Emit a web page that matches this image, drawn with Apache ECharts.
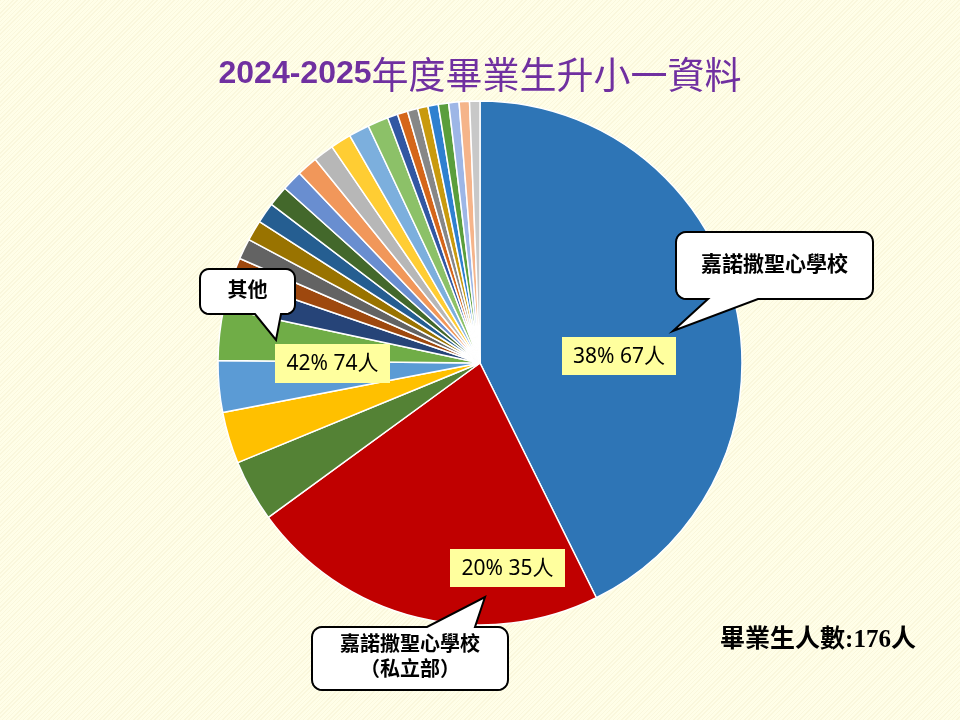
<!DOCTYPE html>
<html>
<head>
<meta charset="utf-8">
<title>2024-2025年度畢業生升小一資料</title>
<script src="https://cdn.jsdelivr.net/npm/echarts@6/dist/echarts.min.js"></script>
<style>
    html, body {
        margin: 0;
        padding: 0;
    }
    body {
        width: 960px;
        height: 720px;
        background-color: #FFFDE4;
        background-image: repeating-linear-gradient(-45deg, #FFFEE8 0px, #FFFEE8 2px, #FAF7DC 2px, #FAF7DC 3px);
    }
    #chart {
        width: 960px;
        height: 720px;
    }
</style>
</head>
<body>
<div id="chart"></div>
<script>
// Slices, clockwise from 12 o'clock
const schoolNames = [
    '嘉諾撒聖心學校', '嘉諾撒聖心學校（私立部）',
    '其他 1', '其他 2', '其他 3', '其他 4', '其他 5', '其他 6', '其他 7', '其他 8', '其他 9',
    '其他 10', '其他 11', '其他 12', '其他 13', '其他 14', '其他 15', '其他 16', '其他 17',
    '其他 18', '其他 19', '其他 20', '其他 21', '其他 22', '其他 23', '其他 24', '其他 25'
];
const studentCounts = [
    67, 35,
    6, 5, 5, 5, 3, 2, 2, 2, 2,
    2, 2, 2, 2, 2, 2, 2, 1,
    1, 1, 1, 1, 1, 1, 1, 1
];
const sliceColors = [
    '#2E75B6', '#C00000',
    '#548235', '#FFC000', '#5B9BD5', '#70AD47', '#264478', '#9E480E', '#636363', '#997300', '#255E91',
    '#43682B', '#698ED0', '#F1975A', '#B7B7B7', '#FFCD33', '#7CAFDD', '#8CC168', '#3257A3',
    '#D5661A', '#878787', '#C99A0E', '#2E80D0', '#5A9E3C', '#9DB6E6', '#F5B48A', '#C8C8C8'
];

// Text annotations as shown on the slide
const titleYears = '2024-2025';
const titleText = '年度畢業生升小一資料';
const valueLabels = ['38% 67人', '20% 35人', '42% 74人'];
const calloutLabels = ['嘉諾撒聖心學校', '嘉諾撒聖心學校\n（私立部）', '其他'];
const totalLabel = '畢業生人數:176人';

const serifFont = "'Liberation Serif', 'Noto Sans CJK TC', serif";
const sansFont = "'Noto Sans', 'Noto Sans CJK TC', sans-serif";

// Rounded box with a pointer, as one polygon outline
function calloutPoints(x, y, w, h, r, side, base1, base2, tip) {
    const pts = [];
    const arc = (cx, cy, a0, a1) => {
        for (let i = 0; i <= 6; i++) {
            const a = (a0 + (a1 - a0) * i / 6) * Math.PI / 180;
            pts.push([cx + r * Math.cos(a), cy + r * Math.sin(a)]);
        }
    };
    pts.push([x + r, y]);
    if (side === 'top') {
        pts.push([base1, y], tip, [base2, y]);
    }
    arc(x + w - r, y + r, -90, 0);
    arc(x + w - r, y + h - r, 0, 90);
    if (side === 'bottom') {
        pts.push([base2, y + h], tip, [base1, y + h]);
    }
    arc(x + r, y + h - r, 90, 180);
    arc(x + r, y + r, 180, 270);
    return pts;
}

function callout(box, text, fontSize, lineHeight) {
    return [
        {
            type: 'polygon',
            z: 100,
            shape: { points: calloutPoints(box.x, box.y, box.w, box.h, box.r, box.side, box.base1, box.base2, box.tip) },
            style: { fill: '#FFFFFF', stroke: '#000000', lineWidth: 2 }
        },
        {
            type: 'text',
            z: 101,
            x: box.x + box.w / 2,
            y: box.y + box.h / 2,
            style: {
                text: text,
                font: 'bold ' + fontSize + 'px ' + serifFont,
                lineHeight: lineHeight,
                fill: '#000000',
                align: 'center',
                verticalAlign: 'middle'
            }
        }
    ];
}

function valueBox(x, y, w, h, text) {
    return [
        {
            type: 'rect',
            z: 90,
            shape: { x: x, y: y, width: w, height: h },
            style: { fill: '#FFFF9E' }
        },
        {
            type: 'text',
            z: 91,
            x: x + w / 2,
            y: y + h / 2 + 1,
            style: {
                text: text,
                font: '21px ' + sansFont,
                fill: '#000000',
                align: 'center',
                verticalAlign: 'middle'
            }
        }
    ];
}

const chart = echarts.init(document.getElementById('chart'));

const option = {
    backgroundColor: 'transparent',
    animation: false,
    title: {
        text: '{a|' + titleYears + '}{b|' + titleText + '}',
        left: 'center',
        top: 51,
        textStyle: {
            rich: {
                a: {
                    fontFamily: "'Liberation Sans', sans-serif",
                    fontWeight: 'bold',
                    fontSize: 32,
                    color: '#7030A0'
                },
                b: {
                    fontFamily: "'Noto Sans CJK TC', sans-serif",
                    fontWeight: 'normal',
                    fontSize: 37,
                    color: '#7030A0'
                }
            }
        }
    },
    series: [
        {
            type: 'pie',
            z: 2,
            center: [480, 363],
            radius: 262,
            startAngle: 90,
            clockwise: true,
            silent: true,
            label: { show: false },
            labelLine: { show: false },
            itemStyle: { borderColor: '#FFFFFF', borderWidth: 1.5 },
            data: studentCounts.map((v, i) => ({
                name: schoolNames[i],
                value: v,
                itemStyle: { color: sliceColors[i] }
            }))
        }
    ],
    graphic: {
        z: 50,
        elements: [].concat(
            valueBox(562, 337, 114, 38, valueLabels[0]),
            valueBox(450, 549, 115, 38, valueLabels[1]),
            valueBox(275, 344, 115, 39, valueLabels[2]),
            callout({ x: 676, y: 232, w: 197, h: 67, r: 10, side: 'bottom', base1: 708, base2: 758, tip: [673, 331] },
                calloutLabels[0], 21, 24),
            callout({ x: 312, y: 627, w: 196, h: 63, r: 10, side: 'top', base1: 427, base2: 475, tip: [485, 597] },
                calloutLabels[1], 20, 25),
            callout({ x: 200, y: 269, w: 95, h: 45, r: 9, side: 'bottom', base1: 255, base2: 281, tip: [276, 340] },
                calloutLabels[2], 20, 24),
            [{
                type: 'text',
                x: 818,
                y: 641,
                z: 100,
                style: {
                    text: totalLabel,
                    font: 'bold 25px ' + serifFont,
                    fill: '#000000',
                    align: 'center',
                    verticalAlign: 'middle'
                }
            }]
        )
    }
};

chart.setOption(option);
</script>
</body>
</html>
